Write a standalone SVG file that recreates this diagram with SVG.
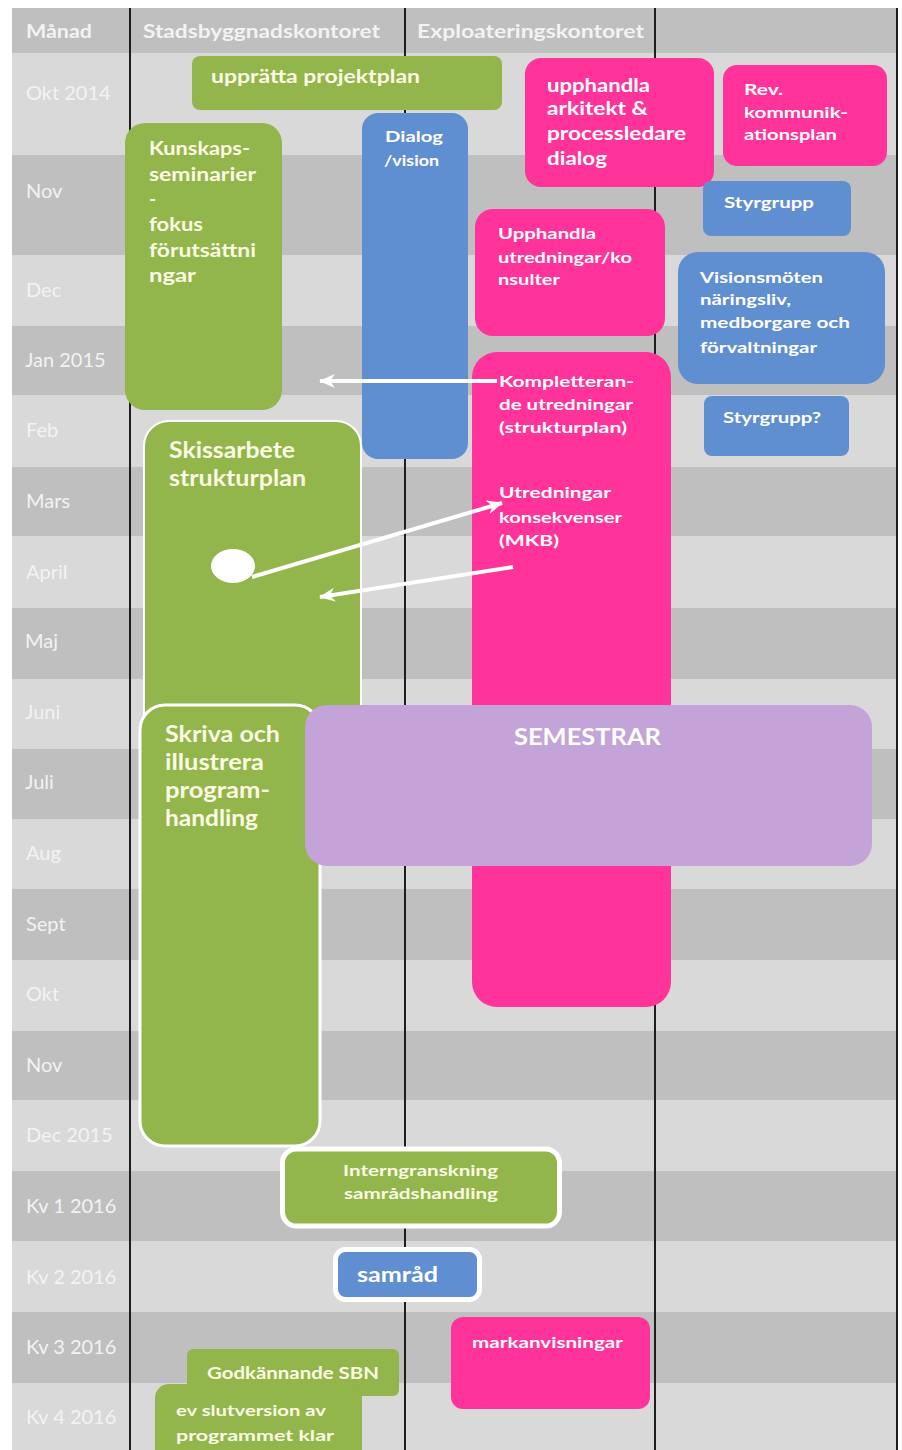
<svg xmlns="http://www.w3.org/2000/svg" width="902" height="1450" viewBox="0 0 902 1450">
<style>
.m{font-family:Lato,"Liberation Sans",sans-serif;font-size:20px;fill:#f3f3f3}
.h{font-family:Lato,"Liberation Sans",sans-serif;font-weight:700;font-size:18px;fill:#f3f3f3}
.t{font-family:Lato,"Liberation Sans",sans-serif;font-weight:700;fill:#ffffff}
.tg{fill:#fbfbe4}
.s15{font-size:15px}.s16{font-size:16px}.s17{font-size:17px}.s19{font-size:19px}.s21{font-size:21px}.s22{font-size:22px}
.g{fill:#92b64b}.p{fill:#ff3399}.b{fill:#5f8fd0}.v{fill:#c4a4d8}
.ws{stroke:#ffffff}
.lt{fill:#d9d9d9}.dk{fill:#bfbfbf}
.vl{stroke:#1e1e1e;stroke-width:2}
.ar{stroke:#ffffff;stroke-width:4;fill:none;marker-end:url(#ah)}
</style>
<defs>
<marker id="ah" viewBox="0 0 16 14" refX="15" refY="7" markerWidth="16" markerHeight="14" markerUnits="userSpaceOnUse" orient="auto">
<path d="M0,0 L16,7 L0,14 L5,7 z" fill="#ffffff"/>
</marker>
</defs>
<rect x="0" y="0" width="902" height="1450" fill="#ffffff"/>
<g id="table">
<rect class="dk" x="12" y="8" width="885" height="45"/>
<rect class="lt" x="12" y="53" width="885" height="102"/>
<rect class="dk" x="12" y="155" width="885" height="100"/>
<rect class="lt" x="12" y="255" width="885" height="71"/>
<rect class="dk" x="12" y="326" width="885" height="69"/>
<rect class="lt" x="12" y="395" width="885" height="72"/>
<rect class="dk" x="12" y="467" width="885" height="69"/>
<rect class="lt" x="12" y="536" width="885" height="72"/>
<rect class="dk" x="12" y="608" width="885" height="71"/>
<rect class="lt" x="12" y="679" width="885" height="70"/>
<rect class="dk" x="12" y="749" width="885" height="70"/>
<rect class="lt" x="12" y="819" width="885" height="70"/>
<rect class="dk" x="12" y="889" width="885" height="71"/>
<rect class="lt" x="12" y="960" width="885" height="71"/>
<rect class="dk" x="12" y="1031" width="885" height="69"/>
<rect class="lt" x="12" y="1100" width="885" height="71"/>
<rect class="dk" x="12" y="1171" width="885" height="70"/>
<rect class="lt" x="12" y="1241" width="885" height="71"/>
<rect class="dk" x="12" y="1312" width="885" height="71"/>
<rect class="lt" x="12" y="1383" width="885" height="67"/>
<line class="vl" x1="130" y1="8" x2="130" y2="1450"/>
<line class="vl" x1="405" y1="8" x2="405" y2="1450"/>
<line class="vl" x1="655" y1="8" x2="655" y2="1450"/>
<line class="vl" x1="897" y1="8" x2="897" y2="1450"/>
<text class="h" x="26" y="38" textLength="66" lengthAdjust="spacingAndGlyphs">Månad</text>
<text class="h" x="143" y="38" textLength="237" lengthAdjust="spacingAndGlyphs">Stadsbyggnadskontoret</text>
<text class="h" x="417" y="38" textLength="227" lengthAdjust="spacingAndGlyphs">Exploateringskontoret</text>
<text class="m" x="26" y="100">Okt 2014</text>
<text class="m" x="26" y="198">Nov</text>
<text class="m" x="26" y="297">Dec</text>
<text class="m" x="25" y="367">Jan 2015</text>
<text class="m" x="26" y="437">Feb</text>
<text class="m" x="26" y="508">Mars</text>
<text class="m" x="26" y="579">April</text>
<text class="m" x="25" y="648">Maj</text>
<text class="m" x="25" y="719">Juni</text>
<text class="m" x="25" y="789">Juli</text>
<text class="m" x="26" y="860">Aug</text>
<text class="m" x="26" y="931">Sept</text>
<text class="m" x="26" y="1001">Okt</text>
<text class="m" x="26" y="1072">Nov</text>
<text class="m" x="26" y="1142">Dec 2015</text>
<text class="m" x="26" y="1213">Kv 1 2016</text>
<text class="m" x="26" y="1284">Kv 2 2016</text>
<text class="m" x="26" y="1354">Kv 3 2016</text>
<text class="m" x="26" y="1424">Kv 4 2016</text>
</g>
<g id="upratta">
<rect class="g" x="192" y="56" width="310" height="54" rx="8"/>
<text class="t tg s19" x="211" y="83" textLength="209" lengthAdjust="spacingAndGlyphs">upprätta projektplan</text>
</g>
<g id="upphandla-arkitekt">
<rect class="p" x="525" y="58" width="189" height="129" rx="16"/>
<text class="t s19" x="547" y="92" textLength="103" lengthAdjust="spacingAndGlyphs">upphandla</text>
<text class="t s19" x="547" y="115" textLength="101" lengthAdjust="spacingAndGlyphs">arkitekt &amp;</text>
<text class="t s19" x="547" y="140" textLength="139" lengthAdjust="spacingAndGlyphs">processledare</text>
<text class="t s19" x="547" y="165" textLength="60" lengthAdjust="spacingAndGlyphs">dialog</text>
</g>
<g id="rev">
<rect class="p" x="723" y="65" width="164" height="101" rx="14"/>
<text class="t s16" x="744" y="95" textLength="39" lengthAdjust="spacingAndGlyphs">Rev.</text>
<text class="t s16" x="744" y="118" textLength="104" lengthAdjust="spacingAndGlyphs">kommunik-</text>
<text class="t s16" x="744" y="140" textLength="93" lengthAdjust="spacingAndGlyphs">ationsplan</text>
</g>
<g id="kunskaps">
<rect class="g" x="125" y="123" width="157" height="287" rx="20"/>
<text class="t tg s19" x="149" y="155" textLength="101" lengthAdjust="spacingAndGlyphs">Kunskaps-</text>
<text class="t tg s19" x="149" y="181" textLength="107" lengthAdjust="spacingAndGlyphs">seminarier</text>
<text class="t tg s19" x="149" y="206">-</text>
<text class="t tg s19" x="149" y="231" textLength="54" lengthAdjust="spacingAndGlyphs">fokus</text>
<text class="t tg s19" x="149" y="257" textLength="107" lengthAdjust="spacingAndGlyphs">förutsättni</text>
<text class="t tg s19" x="149" y="282" textLength="47" lengthAdjust="spacingAndGlyphs">ngar</text>
</g>
<g id="dialog">
<rect class="b" x="362" y="113" width="106" height="346" rx="16"/>
<text class="t s16" x="385" y="142" textLength="58" lengthAdjust="spacingAndGlyphs">Dialog</text>
<text class="t s16" x="384" y="166" textLength="55" lengthAdjust="spacingAndGlyphs">/vision</text>
</g>
<g id="styrgrupp">
<rect class="b" x="703" y="181" width="148" height="55" rx="8"/>
<text class="t s16" x="724" y="208" textLength="90" lengthAdjust="spacingAndGlyphs">Styrgrupp</text>
</g>
<g id="upphandla-utredningar">
<rect class="p" x="475" y="209" width="190" height="127" rx="18"/>
<text class="t s16" x="498" y="239" textLength="98" lengthAdjust="spacingAndGlyphs">Upphandla</text>
<text class="t s16" x="498" y="263" textLength="134" lengthAdjust="spacingAndGlyphs">utredningar/ko</text>
<text class="t s16" x="498" y="285" textLength="62" lengthAdjust="spacingAndGlyphs">nsulter</text>
</g>
<g id="visionsmoten">
<rect class="b" x="678" y="252" width="207" height="132" rx="20"/>
<text class="t s16" x="700" y="283" textLength="123" lengthAdjust="spacingAndGlyphs">Visionsmöten</text>
<text class="t s16" x="700" y="305" textLength="91" lengthAdjust="spacingAndGlyphs">näringsliv,</text>
<text class="t s16" x="700" y="328" textLength="150" lengthAdjust="spacingAndGlyphs">medborgare och</text>
<text class="t s16" x="700" y="353" textLength="117" lengthAdjust="spacingAndGlyphs">förvaltningar</text>
</g>
<g id="styrgrupp2">
<rect class="b" x="704" y="396" width="145" height="60" rx="8"/>
<text class="t s16" x="723" y="423" textLength="98" lengthAdjust="spacingAndGlyphs">Styrgrupp?</text>
</g>
<g id="kompletterande">
<rect class="p" x="472" y="352" width="199" height="655" rx="25"/>
<text class="t s16" x="499" y="387" textLength="135" lengthAdjust="spacingAndGlyphs">Kompletteran-</text>
<text class="t s16" x="499" y="410" textLength="134" lengthAdjust="spacingAndGlyphs">de utredningar</text>
<text class="t s16" x="499" y="433" textLength="128" lengthAdjust="spacingAndGlyphs">(strukturplan)</text>
<text class="t s16" x="499" y="498" textLength="112" lengthAdjust="spacingAndGlyphs">Utredningar</text>
<text class="t s16" x="499" y="523" textLength="123" lengthAdjust="spacingAndGlyphs">konsekvenser</text>
<text class="t s16" x="499" y="546" textLength="60" lengthAdjust="spacingAndGlyphs">(MKB)</text>
</g>
<g id="skissarbete">
<rect class="g ws" x="144" y="421" width="217" height="320" rx="25" stroke-width="2"/>
<text class="t tg s22" x="169" y="458" textLength="126" lengthAdjust="spacingAndGlyphs">Skissarbete</text>
<text class="t tg s22" x="169" y="486" textLength="137" lengthAdjust="spacingAndGlyphs">strukturplan</text>
<ellipse cx="233" cy="566" rx="22" ry="17" fill="#ffffff"/>
</g>
<g id="skriva">
<rect class="g ws" x="140" y="705" width="180" height="441" rx="25" stroke-width="3"/>
<text class="t tg s22" x="165" y="742" textLength="115" lengthAdjust="spacingAndGlyphs">Skriva och</text>
<text class="t tg s22" x="165" y="770" textLength="99" lengthAdjust="spacingAndGlyphs">illustrera</text>
<text class="t tg s22" x="165" y="798" textLength="105" lengthAdjust="spacingAndGlyphs">program-</text>
<text class="t tg s22" x="165" y="826" textLength="93" lengthAdjust="spacingAndGlyphs">handling</text>
</g>
<g id="semestrar">
<rect class="v" x="305" y="705" width="567" height="161" rx="22"/>
<text class="t s22" x="514" y="745" textLength="147" lengthAdjust="spacingAndGlyphs" fill="#f6f0fa">SEMESTRAR</text>
</g>
<g id="interngranskning">
<rect class="g ws" x="282.5" y="1149" width="277" height="77" rx="14" stroke-width="5"/>
<text class="t tg s16" x="343" y="1176" textLength="155" lengthAdjust="spacingAndGlyphs">Interngranskning</text>
<text class="t tg s16" x="344" y="1199" textLength="154" lengthAdjust="spacingAndGlyphs">samrådshandling</text>
</g>
<g id="samrad">
<rect class="b ws" x="335.5" y="1249.5" width="144" height="50" rx="10" stroke-width="5"/>
<text class="t s21" x="357" y="1282" textLength="81" lengthAdjust="spacingAndGlyphs">samråd</text>
</g>
<g id="markanvisningar">
<rect class="p" x="451" y="1317" width="199" height="92" rx="12"/>
<text class="t s15" x="472" y="1348" textLength="151" lengthAdjust="spacingAndGlyphs">markanvisningar</text>
</g>
<g id="godkannande">
<rect class="g" x="187" y="1349" width="212" height="47" rx="6"/>
<text class="t tg s17" x="207" y="1379" textLength="172" lengthAdjust="spacingAndGlyphs">Godkännande SBN</text>
</g>
<g id="slutversion">
<rect class="g" x="155" y="1384" width="207" height="90" rx="14"/>
<text class="t tg s16" x="176" y="1416" textLength="150" lengthAdjust="spacingAndGlyphs">ev slutversion av</text>
<text class="t tg s16" x="176" y="1441" textLength="158" lengthAdjust="spacingAndGlyphs">programmet klar</text>
</g>
<g id="connectors">
<line class="ar" x1="497" y1="381" x2="320" y2="381"/>
<line class="ar" x1="252" y1="577" x2="502" y2="503"/>
<line class="ar" x1="513" y1="567" x2="320" y2="597"/>
</g>
</svg>
